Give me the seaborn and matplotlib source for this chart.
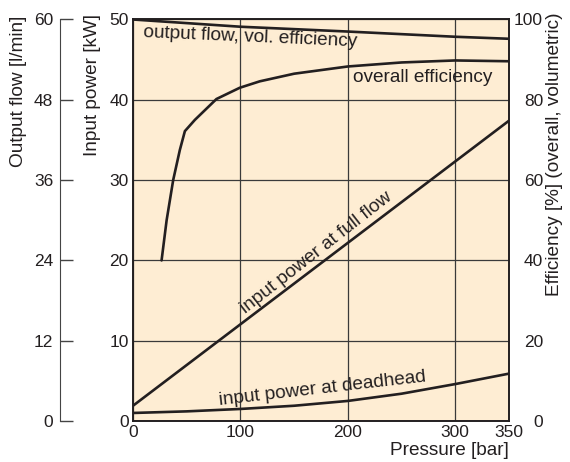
import matplotlib
matplotlib.use("Agg")
import matplotlib.pyplot as plt
import seaborn as sns

sns.set_style("white")
plt.rcParams['font.family'] = ['Liberation Sans', 'DejaVu Sans']
plt.rcParams['font.size'] = 12.5

# values
pressure_full = [0, 350]
power_full = [1.9, 37.4]            # kW

pressure_dead = [0, 50, 100, 150, 200, 250, 300, 350]
power_dead = [1.0, 1.2, 1.5, 1.9, 2.5, 3.4, 4.6, 5.9]   # kW

pressure_vol = [0, 100, 200, 300, 350]
vol_eff = [100, 98.2, 97.0, 95.7, 95.2]                 # %

pressure_ovr = [26.6, 31.3, 37.4, 43.6, 48.3, 57.6, 77.7, 99.4, 118, 150, 200, 250, 300, 350]
ovr_eff = [40, 50, 60, 67.5, 72.2, 75, 80.2, 83, 84.6, 86.5, 88.3, 89.3, 89.8, 89.6]  # %

x_ticks = [0, 100, 200, 300, 350]
kw_ticks = [0, 10, 20, 30, 40, 50]
flow_ticks = [0, 12, 24, 36, 48, 60]
eff_ticks = [0, 20, 40, 60, 80, 100]

line_kw = dict(color='#231f20', linewidth=1.9)
bg = '#feedd3'
ink = '#231f20'
big = 13.7

fig = plt.figure(figsize=(5.7, 4.62), dpi=100)
ax = fig.add_axes([133 / 570, 41 / 462, 376 / 570, 401.5 / 462])
ax.set_facecolor(bg)

sns.lineplot(x=pressure_full, y=power_full, ax=ax, **line_kw)
sns.lineplot(x=pressure_dead, y=power_dead, ax=ax, **line_kw)

ax.set_xlim(0, 350)
ax.set_ylim(0, 50)
ax.set_xticks(x_ticks)
ax.set_yticks(kw_ticks)
ax.grid(True, color='#3a3a3a', linewidth=0.9)
ax.set_axisbelow(True)
ax.tick_params(axis='both', length=0, pad=3, colors=ink)
for s in ax.spines.values():
    s.set_color(ink)
    s.set_linewidth(1.4)
ax.set_ylabel('Input power [kW]', color=ink, fontsize=big)
ax.yaxis.set_label_coords(-0.085, 0.837)
ax.set_xlabel('Pressure [bar]', color=ink, loc='right', labelpad=1, fontsize=big)

# efficiency axis on the right
ax2 = ax.twinx()
sns.lineplot(x=pressure_vol, y=vol_eff, ax=ax2, **line_kw)
sns.lineplot(x=pressure_ovr, y=ovr_eff, ax=ax2, **line_kw)
ax2.set_ylim(0, 100)
ax2.set_yticks(eff_ticks)
ax2.tick_params(axis='y', length=0, pad=24.5, colors=ink)
for lab in ax2.get_yticklabels():
    lab.set_horizontalalignment('right')
ax2.set_ylabel('Efficiency [%] (overall, volumetric)', color=ink, fontsize=big)
ax2.yaxis.set_label_coords(1.098, 0.665)
for s in ax2.spines.values():
    s.set_visible(False)

# output flow axis further left
ax3 = ax.twinx()
ax3.set_ylim(0, 60)
ax3.set_yticks(flow_ticks)
for s in ax3.spines.values():
    s.set_visible(False)
ax3.spines['left'].set_visible(True)
ax3.spines['left'].set_position(('outward', 52.5))
ax3.spines['left'].set_color('#444444')
ax3.yaxis.set_ticks_position('left')
ax3.yaxis.set_label_position('left')
ax3.tick_params(axis='y', direction='in', length=9.5, width=1, color='#444444', pad=5, labelcolor=ink)
ax3.set_ylabel('Output flow [l/min]', color=ink, fontsize=big)
ax3.yaxis.set_label_coords(-0.282, 0.82)

# curve labels
ax.text(108.9, 47.8, 'output flow, vol. efficiency', ha='center', va='center',
        rotation=-2.5, color=ink, fontsize=big)
ax.text(270, 42.8, 'overall efficiency', ha='center', va='center', color=ink, fontsize=big)
ax.text(170.5, 20.9, 'input power at full flow', ha='center', va='center',
        rotation=38, color=ink, fontsize=big)
ax.text(176.7, 4.07, 'input power at deadhead', ha='center', va='center',
        rotation=6.5, color=ink, fontsize=big)

fig.savefig('out.png', dpi=100)
